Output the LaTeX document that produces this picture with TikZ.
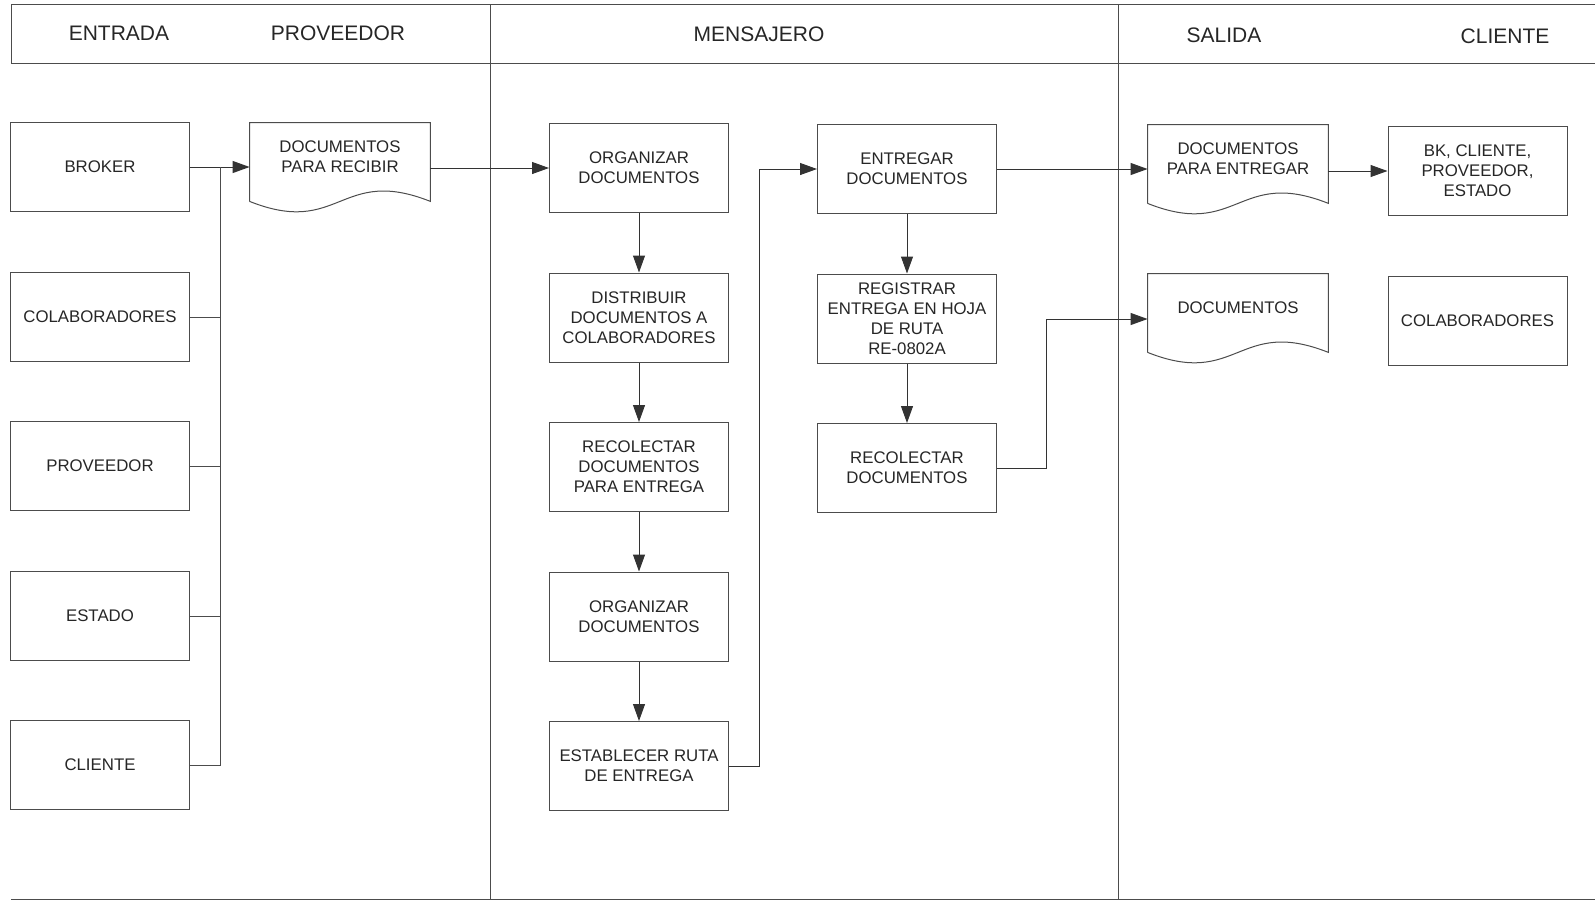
\documentclass[tikz,border=0pt]{standalone}
\usepackage{fontspec}
\setmainfont{Liberation Sans}
\usetikzlibrary{calc,arrows.meta}

\tikzset{
	caja/.style={draw=black!70,line width=0.5pt,minimum width=89.5pt,minimum height=44.5pt,align=center,inner sep=1pt,font=\fontsize{8.4}{10}\selectfont,text=black!85},
	hoja/.style={minimum width=90pt,minimum height=34pt,align=center,inner sep=1pt,font=\fontsize{8.4}{10}\selectfont,text=black!85},
	titulo/.style={font=\fontsize{10.5}{12}\selectfont,text=black!85},
	flecha/.style={-{Triangle[length=8.5pt,width=6pt]},draw=black!80,line width=0.5pt},
	linea/.style={draw=black!70,line width=0.5pt}
}

\begin{document}
\begin{tikzpicture}[x=0.5pt,y=-0.5pt]
\useasboundingbox (0,0) rectangle (1595,901);

%draw header and lanes
\draw[linea](1595,4)--(11,4)--(11,63)--(1595,63);
\draw[linea](11,899)--(1595,899);
\draw[linea](490,4)--(490,899);
\draw[linea](1118,4)--(1118,899);

\node[titulo](tEntrada) at (119,33){ENTRADA};
\node[titulo](tProveedor) at (338,33){PROVEEDOR};
\node[titulo](tMensajero) at (759,34){MENSAJERO};
\node[titulo](tSalida) at (1224,35){SALIDA};
\node[titulo](tCliente) at (1505,36){CLIENTE};

%entries
\foreach \nombre/\y [count=\i] in {BROKER/167, COLABORADORES/317, PROVEEDOR/466, ESTADO/616, CLIENTE/765}
{
	\node[caja](fuente\i) at (100,\y){\nombre};
}

\node[hoja](recibir) at (340,157){DOCUMENTOS\\PARA RECIBIR};

%messenger
\node[caja](org1) at (639,168){ORGANIZAR\\DOCUMENTOS};
\node[caja](distr) at (639,317.5){DISTRIBUIR\\DOCUMENTOS A\\COLABORADORES};
\node[caja](recol1) at (639,467){RECOLECTAR\\DOCUMENTOS\\PARA ENTREGA};
\node[caja](org2) at (639,616.5){ORGANIZAR\\DOCUMENTOS};
\node[caja](ruta) at (639,766){ESTABLECER RUTA\\DE ENTREGA};

\node[caja](entregar) at (907,169){ENTREGAR\\DOCUMENTOS};
\node[caja](registrar) at (907,318.5){REGISTRAR\\ENTREGA EN HOJA\\DE RUTA\\RE-0802A};
\node[caja](recol2) at (907,468){RECOLECTAR\\DOCUMENTOS};

%outputs
\node[hoja](paraentregar) at (1238,159){DOCUMENTOS\\PARA ENTREGAR};
\node[hoja](docs) at (1238,308){DOCUMENTOS};
\node[caja](bk) at (1477.5,171){BK, CLIENTE,\\PROVEEDOR,\\ESTADO};
\node[caja](colab) at (1477.5,320.5){COLABORADORES};

%wavy document outlines
\foreach \d in {recibir, paraentregar, docs}
{
	\draw[linea]([yshift=-5pt]\d.south west)--(\d.north west)--(\d.north east)--([yshift=-5pt]\d.south east)
		.. controls ([yshift=13pt]\d.south) and ([yshift=-23pt]\d.south) .. ([yshift=-5pt]\d.south west);
}

%join the entries
\coordinate (bus) at (220,167);
\draw[flecha](fuente1.east)--(fuente1.east -| recibir.west);
\draw[linea](fuente5.east)-|(bus);
\foreach \i in {2,...,4}
{
	\draw[linea](fuente\i.east)--(fuente\i.east -| bus);
}
\draw[flecha](org1.west -| recibir.east)--(org1.west);

%flow
\foreach \a/\b in {org1/distr, distr/recol1, recol1/org2, org2/ruta, entregar/registrar, registrar/recol2}
{
	\draw[flecha](\a)--(\b);
}
\draw[flecha](ruta.east)--++(30,0)|-(entregar.west);
\draw[flecha](entregar.east)--(entregar.east -| paraentregar.west);
\draw[flecha](paraentregar.east |- bk.west)--(bk.west);
\draw[flecha](recol2.east)--++(49,0)|-([yshift=-5.5pt]docs.west);
\end{tikzpicture}
\end{document}
